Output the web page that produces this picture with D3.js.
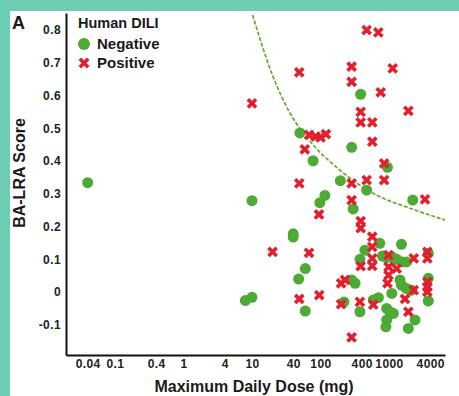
<!DOCTYPE html>
<html>
<head>
<meta charset="utf-8">
<script src="https://cdn.jsdelivr.net/npm/d3@7"></script>
<style>
  body { margin: 0; background: #6dcdb3; }
  svg { display: block; font-family: "Liberation Sans", Arial, sans-serif; }
  .tick text { font-size: 12px; font-weight: bold; fill: #222; letter-spacing: 0.4px; }
</style>
</head>
<body>
<div id="chart"></div>
<script>
// Human DILI negative compounds (dose mg, BA-LRA score)
const negDose = [0.04, 8, 10, 10, 40, 40, 50, 78, 98, 116, 195, 285, 386, 472, 950, 2220, 300,
  60, 48, 60, 220, 285, 320, 377, 445, 377, 735, 1520,
  800, 925, 1100, 1300, 1550, 1800, 590, 700, 1447, 1520, 1800, 2130, 1100,
  3750, 3750, 3750, 925, 1030, 1157, 925, 900, 1918, 2400];
const negScore = [0.334, -0.026, -0.016, 0.279, 0.178, 0.168, 0.486, 0.401, 0.273, 0.295, 0.34, 0.442, 0.604, 0.311, 0.381, 0.281, 0.254,
  0.072, 0.04, -0.058, -0.03, 0.037, 0.027, -0.06, 0.128, 0.1, 0.149, 0.146,
  0.11, 0.105, 0.108, 0.1, 0.092, 0.092, -0.024, -0.017, 0.037, 0.021, 0.011, 0.006, -0.004,
  0.118, 0.042, -0.027, -0.05, -0.06, -0.065, -0.085, -0.106, -0.111, -0.085];

// Human DILI positive compounds
const posDose = [472, 698, 49, 285, 1132, 285, 757, 10, 386, 1918, 386, 571, 571,
  68, 85, 100, 120, 59, 49, 285, 472, 850, 850, 3355, 285, 95, 386, 386,
  20, 68, 570, 570, 386, 570, 570, 985, 985, 985, 950, 1295, 2300,
  3630, 3630, 3630, 3630, 3630, 2300, 1713, 1918, 376, 590, 200, 228, 200, 285, 49, 96];
const posScore = [0.8, 0.793, 0.671, 0.688, 0.683, 0.642, 0.61, 0.576, 0.55, 0.553, 0.518, 0.518, 0.459,
  0.48, 0.475, 0.472, 0.482, 0.436, 0.332, 0.332, 0.342, 0.342, 0.393, 0.283, 0.281, 0.237, 0.217, 0.195,
  0.123, 0.12, 0.169, 0.138, 0.079, 0.103, 0.08, 0.113, 0.077, 0.052, 0.027, 0.072, 0.103,
  0.123, 0.103, 0.031, 0.016, 0.001, 0.006, -0.021, -0.06, -0.03, -0.038, 0.027, 0.037, -0.037, -0.138, -0.021, -0.009];

// dashed threshold curve
const curveDose = [10.2, 20, 36, 75, 193, 660, 2030, 6570];
const curveScore = [0.846, 0.661, 0.546, 0.454, 0.372, 0.296, 0.256, 0.22];

const xTicks = [0.04, 0.1, 0.4, 1, 4, 10, 40, 100, 400, 1000, 4000];
const yTicks = [-0.1, 0, 0.1, 0.2, 0.3, 0.4, 0.5, 0.6, 0.7, 0.8];

const green = '#4caa35';
const red = '#e2202d';

const W = 459, H = 396;
const svg = d3.select('#chart').append('svg')
  .attr('width', W)
  .attr('height', H);

// white panel over the teal background
svg.append('rect')
  .attr('x', 10).attr('y', 11)
  .attr('width', W - 10).attr('height', H - 11)
  .attr('fill', '#fff');

const x = d3.scaleLog().domain([0.0193, 6570]).range([66, 445]);
const y = d3.scaleLinear().domain([-0.192, 0.852]).range([355, 13]);

// axes
const xAxis = svg.append('g')
  .attr('transform', 'translate(0,355)')
  .call(d3.axisBottom(x).tickValues(xTicks).tickFormat(d => String(d)).tickSize(0).tickPadding(4));
const yAxis = svg.append('g')
  .attr('transform', 'translate(66,0)')
  .call(d3.axisLeft(y).tickValues(yTicks).tickFormat(d => String(d)).tickSize(0).tickPadding(5));
[xAxis, yAxis].forEach(a => a.select('.domain').attr('stroke', '#111').attr('stroke-width', 2));

// threshold line
const line = d3.line()
  .x(d => x(d[0]))
  .y(d => y(d[1]))
  .curve(d3.curveMonotoneX);
svg.append('path')
  .datum(curveDose.map((d, i) => [d, curveScore[i]]))
  .attr('fill', 'none')
  .attr('stroke', '#62ab2e')
  .attr('stroke-width', 1.7)
  .attr('stroke-dasharray', '4,1.8')
  .attr('d', line);

const crossPath = s => `M${-s},${-s}L${s},${s}M${-s},${s}L${s},${-s}`;

// negatives (circles)
svg.append('g').selectAll('circle')
  .data(negDose.map((d, i) => [d, negScore[i]]))
  .enter().append('circle')
  .attr('cx', d => x(d[0]))
  .attr('cy', d => y(d[1]))
  .attr('r', 5.5)
  .attr('fill', green);

// positives (crosses)
svg.append('g').selectAll('path')
  .data(posDose.map((d, i) => [d, posScore[i]]))
  .enter().append('path')
  .attr('transform', d => `translate(${x(d[0])},${y(d[1])})`)
  .attr('d', crossPath(4.1))
  .attr('stroke', red)
  .attr('stroke-width', 3.6)
  .attr('fill', 'none');

// titles
svg.append('text')
  .attr('x', 254).attr('y', 392)
  .attr('text-anchor', 'middle')
  .attr('font-size', 16).attr('font-weight', 'bold').attr('fill', '#1a1a1a')
  .text('Maximum Daily Dose (mg)');
svg.append('text')
  .attr('transform', 'translate(25,173) rotate(-90)')
  .attr('text-anchor', 'middle')
  .attr('font-size', 16).attr('font-weight', 'bold').attr('fill', '#1a1a1a')
  .text('BA-LRA Score');
svg.append('text')
  .attr('x', 12).attr('y', 29)
  .attr('font-size', 18).attr('font-weight', 'bold').attr('fill', '#1a1a1a')
  .text('A');

// legend
const legend = svg.append('g');
legend.append('text')
  .attr('x', 78).attr('y', 28)
  .attr('font-size', 14.5).attr('font-weight', 'bold').attr('fill', '#1a1a1a')
  .text('Human DILI');
legend.append('circle')
  .attr('cx', 84).attr('cy', 44).attr('r', 6)
  .attr('fill', green);
legend.append('text')
  .attr('x', 97).attr('y', 49)
  .attr('font-size', 15).attr('font-weight', 'bold').attr('fill', '#1a1a1a')
  .text('Negative');
legend.append('path')
  .attr('transform', 'translate(84,63)')
  .attr('d', crossPath(4.2))
  .attr('stroke', red).attr('stroke-width', 3.6).attr('fill', 'none');
legend.append('text')
  .attr('x', 97).attr('y', 68)
  .attr('font-size', 15).attr('font-weight', 'bold').attr('fill', '#1a1a1a')
  .text('Positive');
</script>
</body>
</html>
